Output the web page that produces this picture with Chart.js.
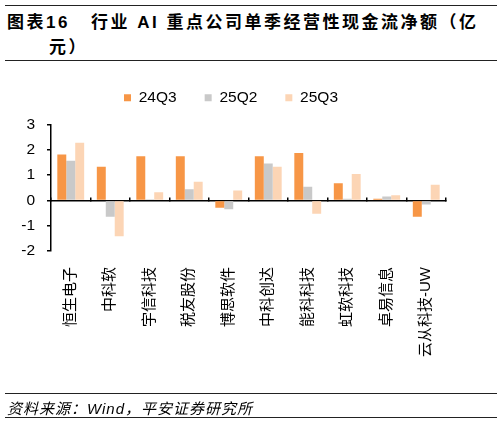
<!DOCTYPE html>
<html lang="zh">
<head>
    <meta charset="UTF-8">
    <title>行业 AI 重点公司单季经营性现金流净额</title>
    <script src="https://cdn.jsdelivr.net/npm/chart.js"></script>
    <style>
        body { margin: 0; width: 503px; height: 424px; position: relative; background: #fff;
               font-family: "Liberation Sans", "Noto Sans CJK SC", sans-serif; color: #000; }
        .rule { position: absolute; left: 5px; width: 492px; height: 0; border-top: 1.5px solid #222; }
        #title { position: absolute; left: 7px; top: 10px; font-size: 17px; font-weight: bold;
                 line-height: 25px; letter-spacing: 2.5px; white-space: nowrap; }
        #title .num { display: inline-block; width: 84px; }
        #title .l2 { padding-left: 42px; }
        #source { position: absolute; left: 7px; top: 397px; font-size: 15px; font-style: italic; letter-spacing: 1px; }
        #wrap { position: absolute; left: 0; top: 0; width: 503px; height: 424px; }
    </style>
</head>
<body>
    <div class="rule" style="top:5px"></div>
    <div id="title"><span class="num">图表16</span>行业 AI 重点公司单季经营性现金流净额（亿<br><span class="l2">元）</span></div>
    <div class="rule" style="top:60px"></div>
    <div id="wrap"><canvas id="chart"></canvas></div>
    <div class="rule" style="top:393px"></div>
    <div id="source">资料来源：Wind，平安证券研究所</div>
    <div class="rule" style="top:417px"></div>
    <script>
        const companies = ['恒生电子', '中科软', '宇信科技', '税友股份', '博思软件',
                           '中科创达', '能科科技', '虹软科技', '卓易信息', '云从科技-UW'];
        const q24q3 = [1.81, 1.33, 1.75, 1.75, -0.29, 1.75, 1.87, 0.68, 0.07, -0.65];
        const q25q2 = [1.57, -0.65, 0.05, 0.44, -0.35, 1.46, 0.54, 0.07, 0.15, -0.16];
        const q25q3 = [2.28, -1.42, 0.32, 0.74, 0.39, 1.33, -0.53, 1.04, 0.20, 0.62];
        const seriesNames = ['24Q3', '25Q2', '25Q3'];
        const colors = ['#F79646', '#C9C9C9', '#FCD5B5'];

        Chart.defaults.font.family = '"Liberation Sans", "Noto Sans CJK SC", sans-serif';
        Chart.defaults.color = '#000';

        const chart = new Chart(document.getElementById('chart'), {
            type: 'bar',
            data: {
                labels: companies,
                datasets: [q24q3, q25q2, q25q3].map((d, i) => ({
                    label: seriesNames[i],
                    data: d,
                    backgroundColor: colors[i],
                    borderWidth: 0,
                    categoryPercentage: 0.68,
                    barPercentage: 1.0
                }))
            },
            options: {
                responsive: true,
                maintainAspectRatio: false,
                animation: false,
                layout: { padding: { top: 62, right: 57, bottom: 58, left: 16 } },
                plugins: {
                    legend: {
                        position: 'top',
                        labels: { boxWidth: 7, boxHeight: 7, padding: 28, font: { size: 15.5 } }
                    },
                    tooltip: { enabled: false }
                },
                scales: {
                    x: {
                        position: 'bottom',
                        grid: { display: false },
                        border: { display: false },
                        ticks: { minRotation: 90, maxRotation: 90, padding: 8, font: { size: 15 } },
                        afterFit: s => { s.height = 115; }
                    },
                    x2: {
                        position: { y: 0 },
                        grid: { drawOnChartArea: false, drawTicks: true, tickLength: -4, color: '#000', lineWidth: 1.5, offset: true },
                        border: { color: '#000', width: 1.5 },
                        ticks: { display: false }
                    },
                    y: {
                        min: -2,
                        max: 3,
                        ticks: { stepSize: 1, padding: 12, font: { size: 15.5 } },
                        grid: { drawOnChartArea: false, drawTicks: true, tickLength: 4, color: '#000', lineWidth: 1.5 },
                        border: { color: '#000', width: 1.5 },
                        afterFit: s => { s.width = 35; }
                    }
                }
            }
        });

        // leave a gap under the legend like the original
        const legendFit = chart.legend.fit;
        chart.legend.fit = function () { legendFit.call(this); this.height += 9; };
        chart.update();
    </script>
</body>
</html>
